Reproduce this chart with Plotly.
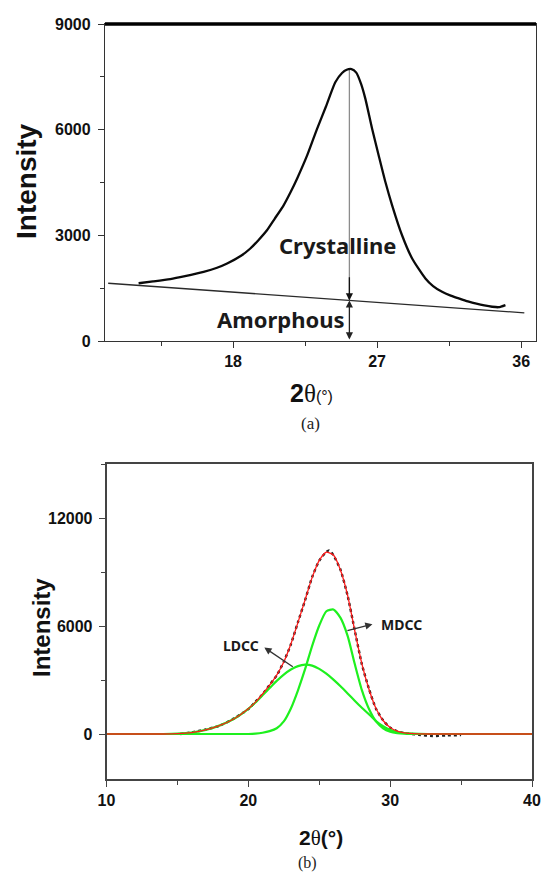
import plotly.graph_objects as go

# ---------------- Panel (a): XRD profile with crystalline / amorphous split ----------------
top_theta = [12.1, 13.0, 14.08, 15.0, 16.16, 17.0, 17.63, 18.5, 19.08, 19.6,
             20.12, 20.6, 21.16, 21.6, 22.0, 22.63, 23.25, 23.8, 24.39, 24.81,
             25.1, 25.4, 25.7, 26.0, 26.27, 26.69, 27.1, 27.52, 27.94, 28.56, 29.19, 30.02,
             30.5, 31.06, 31.6, 32.1, 32.6, 33.14, 33.7, 34.19, 34.6, 35.02]
top_intensity = [1640, 1690, 1756, 1840, 1963, 2080, 2201, 2420, 2626, 2870,
                 3144, 3470, 3853, 4230, 4609, 5269, 6025, 6650, 7346, 7610,
                 7700, 7720, 7620, 7300, 6875, 6025, 5269, 4513, 3853, 3003, 2343, 1776,
                 1560, 1397, 1290, 1210, 1130, 1068, 1010, 972, 960, 1020]
baseline_theta = [10.2, 36.2]
baseline_intensity = [1640, 800]
peak_theta = 25.27
peak_intensity = 7720
baseline_at_peak = 1153
top_xticks = [18, 27, 36]
top_yticks = [0, 3000, 6000, 9000]

# ---------------- Panel (b): peak deconvolution ----------------
fit_theta = [10, 14, 15, 16, 17, 18, 19, 20,
             20.5, 21, 21.5, 22, 22.5, 23, 23.5, 24, 24.5, 25, 25.5, 26, 26.5, 27,
             27.5, 28, 28.5, 29, 29.5, 30, 30.5, 31,
             32, 33, 34, 40]
ldcc = [0, 0, 20, 80, 230, 480, 850, 1400,
        1750, 2150, 2550, 2950, 3300, 3580, 3770, 3850, 3800, 3620, 3350, 3020, 2650, 2250,
        1850, 1460, 1100, 720, 430, 230, 110, 50,
        10, 0, 0, 0]
mdcc = [0, 0, 0, 0, 0, 0, 0, 0,
        20, 70, 160, 320, 700, 1420, 2430, 3600, 4900, 6030, 6820, 6920, 6450, 5450,
        3900, 2450, 1400, 700, 320, 130, 50, 15,
        0, 0, 0, 0]
fit_total = [0, 0, 20, 80, 230, 480, 850, 1400,
             1770, 2220, 2710, 3270, 4000, 5000, 6200, 7450, 8700, 9650, 10100, 9940, 9100, 7700,
             5750, 3910, 2500, 1420, 750, 360, 160, 65,
             10, 0, 0, 0]
data_theta = [15.2, 16, 17, 18, 19, 20, 20.5, 21, 21.5, 22, 22.5, 23, 23.5, 24, 24.5, 25,
              25.5, 25.7, 26, 26.5, 27, 27.5, 28, 28.5, 29, 29.5, 30, 30.5, 31, 32, 33, 34, 35]
data_intensity = [0, 90, 250, 470, 870, 1380, 1790, 2200, 2730, 3250, 4020, 4980, 6220, 7430, 8720, 9630,
                  10120, 10200, 9930, 9120, 7680, 5770, 3890, 2520, 1400, 760, 350, 150, 50, -40, -110, -80, -60]
ldcc_label_pos = (19.49, 4930)
ldcc_arrow = ((21.13, 4800), (23.24, 3683))   # (head, tail)
mdcc_label_pos = (30.77, 6100)
mdcc_arrow = ((28.75, 6100), (26.88, 5727))
bot_xticks = [10, 20, 30, 40]
bot_yticks = [0, 6000, 12000]

# ---------------- styling ----------------
TICKFONT_TOP = dict(family="Liberation Sans, Arial", size=16, color="#111", weight="bold")
TICKFONT_BOT = dict(family="Liberation Sans, Arial", size=16, color="#111", weight="bold")
LABELFONT = dict(family="Noto Sans, Open Sans", color="#1a1a1a", weight="bold")
GREEN = "rgb(30,240,30)"

fig = go.Figure()

# panel (a)
fig.add_trace(go.Scatter(x=baseline_theta, y=baseline_intensity, mode="lines",
                         line=dict(color="#2a2a2a", width=1.3), xaxis="x", yaxis="y",
                         showlegend=False, hoverinfo="skip"))
fig.add_trace(go.Scatter(x=[peak_theta, peak_theta], y=[peak_intensity, baseline_at_peak], mode="lines",
                         line=dict(color="#8c8c8c", width=1.3), xaxis="x", yaxis="y",
                         showlegend=False, hoverinfo="skip"))
fig.add_trace(go.Scatter(x=top_theta, y=top_intensity, mode="lines",
                         line=dict(color="#0a0a0a", width=2.3, shape="spline", smoothing=0.6),
                         xaxis="x", yaxis="y", showlegend=False))

# panel (b)
fig.add_trace(go.Scatter(x=data_theta, y=data_intensity, mode="lines",
                         line=dict(color="#222", width=2.4, dash="dot", shape="spline", smoothing=0.6),
                         xaxis="x2", yaxis="y2", showlegend=False))
fig.add_trace(go.Scatter(x=fit_theta, y=ldcc, mode="lines",
                         line=dict(color=GREEN, width=2.2, shape="spline", smoothing=0.6),
                         xaxis="x2", yaxis="y2", showlegend=False))
fig.add_trace(go.Scatter(x=fit_theta, y=mdcc, mode="lines",
                         line=dict(color=GREEN, width=2.2, shape="spline", smoothing=0.6),
                         xaxis="x2", yaxis="y2", showlegend=False))
fig.add_trace(go.Scatter(x=fit_theta, y=fit_total, mode="lines",
                         line=dict(color="#ff1a1a", width=1.3, shape="spline", smoothing=0.6),
                         xaxis="x2", yaxis="y2", showlegend=False))

axis_common = dict(showgrid=False, zeroline=False, showline=True, mirror=True,
                   ticks="outside", ticklen=6, tickwidth=1.3, automargin=False, tickformat="d")

fig.update_layout(
    width=545, height=875, autosize=False,
    margin=dict(l=0, r=0, t=0, b=0),
    paper_bgcolor="white", plot_bgcolor="white",
    xaxis=dict(domain=[105/545, 536/545], anchor="y", range=[10, 36.93],
               tickvals=top_xticks, linecolor="#333", linewidth=1.3, tickcolor="#333",
               tickfont=TICKFONT_TOP,
               minor=dict(dtick=4.5, tick0=0, ticks="outside", ticklen=4, tickcolor="#333"),
               **axis_common),
    yaxis=dict(domain=[1 - 341/875, 1 - 24/875], anchor="x", range=[0, 9000],
               tickvals=top_yticks, linecolor="#333", linewidth=1.3, tickcolor="#333",
               tickfont=TICKFONT_TOP, ticklabelstandoff=4,
               minor=dict(dtick=1500, tick0=0, ticks="outside", ticklen=4, tickcolor="#333"),
               **axis_common),
    xaxis2=dict(domain=[106.5/545, 532/545], anchor="y2", range=[10, 40],
                tickvals=bot_xticks, linecolor="#444", linewidth=1.6, tickcolor="#444",
                tickfont=TICKFONT_BOT,
                minor=dict(dtick=5, tick0=0, ticks="outside", ticklen=4, tickcolor="#444"),
                **axis_common),
    yaxis2=dict(domain=[1 - 779/875, 1 - 464/875], anchor="x2", range=[-2500, 15000],
                tickvals=bot_yticks, linecolor="#444", linewidth=1.6, tickcolor="#444",
                tickfont=TICKFONT_BOT, ticklabelstandoff=3,
                minor=dict(dtick=3000, tick0=0, ticks="outside", ticklen=4, tickcolor="#444"),
                **axis_common),
)

# thick top frame line of panel (a)
fig.add_shape(type="line", xref="x domain", yref="y domain", x0=0, x1=1, y0=1, y1=1,
              line=dict(color="#000", width=3.5))

ann = []
# arrows panel (a)
ann.append(dict(x=peak_theta, y=baseline_at_peak, ax=peak_theta, ay=baseline_at_peak + 700,
                xref="x", yref="y", axref="x", ayref="y", text="", showarrow=True,
                arrowhead=2, arrowsize=1.1, arrowwidth=1.3, arrowcolor="#111", standoff=0))
ann.append(dict(x=peak_theta, y=baseline_at_peak, ax=peak_theta, ay=0,
                xref="x", yref="y", axref="x", ayref="y", text="", showarrow=True,
                arrowhead=2, startarrowhead=2, arrowside="end+start", arrowsize=1.1,
                startarrowsize=1.1, arrowwidth=1.3, arrowcolor="#222", standoff=0, startstandoff=0))
ann.append(dict(x=24.5, y=2720, xref="x", yref="y", text="Crystalline", showarrow=False,
                font=dict(size=22, **LABELFONT), xanchor="center", yanchor="middle"))
ann.append(dict(x=21.0, y=630, xref="x", yref="y", text="Amorphous", showarrow=False,
                font=dict(size=22, **LABELFONT), xanchor="center", yanchor="middle"))

# arrows panel (b)
for (head, tail) in (ldcc_arrow, mdcc_arrow):
    ann.append(dict(x=head[0], y=head[1], ax=tail[0], ay=tail[1],
                    xref="x2", yref="y2", axref="x2", ayref="y2", text="", showarrow=True,
                    arrowhead=2, arrowsize=1.1, arrowwidth=1.3, arrowcolor="#333", standoff=0))
ann.append(dict(x=ldcc_label_pos[0], y=ldcc_label_pos[1], xref="x2", yref="y2", text="LDCC",
                showarrow=False, font=dict(size=14, **LABELFONT), xanchor="center", yanchor="middle"))
ann.append(dict(x=mdcc_label_pos[0], y=mdcc_label_pos[1], xref="x2", yref="y2", text="MDCC",
                showarrow=False, font=dict(size=14, **LABELFONT), xanchor="center", yanchor="middle"))

# axis titles & captions
ann.append(dict(x=26/545, y=1 - 181/875, xref="paper", yref="paper", text="<b>Intensity</b>",
                showarrow=False, textangle=-90, xanchor="center", yanchor="middle",
                font=dict(family="Liberation Sans, Arial", size=28, color="#111")))
ann.append(dict(x=311.5/545, y=1 - 393/875, xref="paper", yref="paper",
                text="<b>2</b><span style='font-family:Liberation Serif'>θ</span><span style='font-size:16px'>(°)</span>",
                showarrow=False, xanchor="center", yanchor="middle",
                font=dict(family="Liberation Sans, Arial", size=25, color="#111")))
ann.append(dict(x=310/545, y=1 - 423/875, xref="paper", yref="paper", text="(a)",
                showarrow=False, xanchor="center", yanchor="middle",
                font=dict(family="Liberation Serif", size=17, color="#222")))
ann.append(dict(x=41/545, y=1 - 628/875, xref="paper", yref="paper", text="<b>Intensity</b>",
                showarrow=False, textangle=-90, xanchor="center", yanchor="middle",
                font=dict(family="Liberation Sans, Arial", size=24, color="#111")))
ann.append(dict(x=320.7/545, y=1 - 838/875, xref="paper", yref="paper",
                text="<b>2</b><span style='font-family:Liberation Serif'>θ</span><b>(°)</b>",
                showarrow=False, xanchor="center", yanchor="middle",
                font=dict(family="Liberation Sans, Arial", size=21, color="#111")))
ann.append(dict(x=307/545, y=1 - 863/875, xref="paper", yref="paper", text="(b)",
                showarrow=False, xanchor="center", yanchor="middle",
                font=dict(family="Liberation Serif", size=16, color="#222")))
fig.update_layout(annotations=ann)

fig.write_html("out.html", config={"displayModeBar": False},
               post_script="document.body.style.margin='0';document.body.style.overflow='hidden';")
